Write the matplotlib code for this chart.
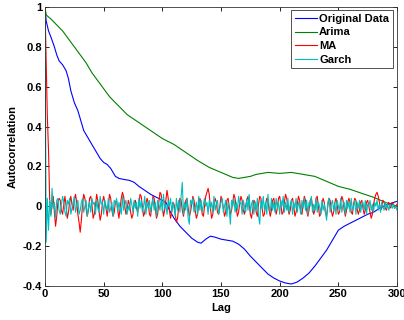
import numpy as np
import matplotlib
matplotlib.use("Agg")
import matplotlib.pyplot as plt

plt.rcParams['font.family'] = ['Liberation Sans', 'DejaVu Sans']

orig_lags = [0, 1, 3, 5, 8, 10, 12, 15, 18, 20, 22, 25, 28, 30, 33, 36, 40, 44, 47, 50,
             53, 56, 60, 63, 67, 72, 76, 80, 85, 90, 95, 100, 103, 107, 110, 115, 120, 125,
             130, 133, 137, 141, 145, 150, 155, 160, 165, 170, 175, 180, 185, 190, 195, 200,
             205, 210, 215, 220, 225, 230, 235, 240, 245, 250, 255, 260, 265, 270, 275, 280,
             285, 290, 295, 300]
orig_vals = [1.00, 0.93, 0.88, 0.85, 0.80, 0.76, 0.73, 0.71, 0.68, 0.64, 0.58, 0.52, 0.48,
             0.44, 0.38, 0.35, 0.31, 0.27, 0.24, 0.22, 0.21, 0.19, 0.15, 0.14, 0.135, 0.13,
             0.12, 0.10, 0.08, 0.06, 0.045, 0.03, 0.02, -0.03, -0.06, -0.10, -0.13, -0.16,
             -0.18, -0.185, -0.165, -0.15, -0.155, -0.165, -0.17, -0.175, -0.19, -0.215,
             -0.25, -0.28, -0.31, -0.34, -0.36, -0.375, -0.385, -0.39, -0.38, -0.36, -0.335,
             -0.30, -0.26, -0.22, -0.17, -0.12, -0.10, -0.085, -0.07, -0.055, -0.04, -0.03,
             -0.01, 0.005, 0.015, 0.025]

arima_lags = [0, 1, 5, 10, 15, 20, 25, 30, 35, 40, 45, 50, 55, 60, 65, 70, 75, 80, 85, 90,
              95, 100, 110, 120, 130, 140, 150, 160, 165, 170, 175, 180, 190, 200, 210, 220,
              225, 230, 240, 250, 260, 270, 280, 290, 300]
arima_vals = [1.0, 0.96, 0.94, 0.91, 0.88, 0.84, 0.80, 0.76, 0.72, 0.67, 0.63, 0.59, 0.55,
              0.52, 0.49, 0.46, 0.44, 0.42, 0.40, 0.38, 0.36, 0.34, 0.31, 0.27, 0.23, 0.195,
              0.17, 0.145, 0.14, 0.145, 0.15, 0.16, 0.17, 0.165, 0.17, 0.16, 0.155, 0.15,
              0.125, 0.10, 0.085, 0.065, 0.045, 0.02, 0.0]

ma_vals = [
    1.00, 0.72, 0.45, 0.28, 0.03, -0.04, 0.00, 0.05, -0.03, -0.10, -0.05, 0.02, 0.04, 0.03, -0.02, -0.04, 0.01, 0.05, 0.00, -0.06,
    -0.03, 0.02, 0.05, 0.01, -0.02, 0.03, 0.06, 0.02, -0.04, -0.08, -0.13, -0.07, 0.01, 0.06, 0.04, -0.01, -0.05, -0.02, 0.04, 0.05,
    0.01, -0.06, -0.04, 0.00, 0.06, 0.03, -0.02, -0.07, -0.04, 0.02, 0.05, 0.02, -0.01, -0.05, 0.00, 0.06, 0.04, -0.02, -0.05, -0.03,
    0.02, 0.03, -0.02, -0.06, -0.01, 0.04, 0.07, 0.05, 0.00, -0.04, -0.02, 0.03, 0.01, -0.03, -0.06, -0.04, 0.02, 0.03, -0.01, -0.03,
    0.01, 0.06, 0.05, 0.00, -0.05, -0.03, 0.01, 0.04, 0.02, -0.04, -0.05, 0.00, 0.05, 0.04, -0.01, -0.06, -0.04, 0.02, 0.07, 0.06,
    0.00, -0.05, -0.02, 0.03, 0.08, 0.04, -0.02, -0.06, -0.03, 0.02, 0.01, -0.04, -0.08, -0.06, 0.00, 0.04, 0.03, -0.02, -0.05, -0.01,
    0.03, 0.04, -0.01, -0.05, -0.03, 0.01, 0.05, 0.03, -0.02, -0.06, -0.04, 0.01, 0.04, 0.02, -0.04, -0.05, 0.00, 0.05, 0.07, 0.09,
    0.06, -0.01, -0.06, -0.04, 0.01, 0.04, 0.02, -0.03, -0.04, 0.00, 0.05, 0.03, -0.01, -0.05, -0.03, 0.03, 0.04, 0.00, -0.04, -0.02,
    0.02, 0.06, 0.04, -0.01, -0.05, -0.03, 0.02, 0.05, 0.03, -0.02, -0.04, 0.00, 0.03, 0.05, 0.01, -0.04, -0.06, -0.02, 0.03, 0.02,
    -0.03, -0.05, 0.01, 0.05, 0.04, -0.01, -0.05, -0.04, 0.01, 0.04, 0.03, -0.02, -0.05, -0.02, 0.03, 0.04, 0.00, -0.04, -0.01, 0.04,
    0.05, 0.01, -0.04, -0.03, 0.02, 0.06, 0.04, -0.01, -0.04, -0.02, 0.03, 0.04, 0.00, -0.05, -0.03, 0.01, 0.05, 0.03, -0.03, -0.04,
    0.01, 0.05, 0.03, -0.02, -0.05, -0.02, 0.03, 0.04, 0.00, -0.04, -0.02, 0.04, 0.05, 0.00, -0.05, -0.04, 0.01, 0.04, 0.02, -0.03,
    -0.05, 0.00, 0.04, 0.03, -0.02, -0.05, -0.03, 0.02, 0.04, 0.01, -0.04, -0.03, 0.02, 0.05, 0.03, -0.02, -0.05, -0.02, 0.02, 0.04,
    0.02, -0.03, -0.04, 0.01, 0.04, 0.03, -0.01, -0.04, -0.02, 0.02, 0.03, -0.01, -0.04, -0.02, 0.02, 0.03, 0.00, -0.03, -0.06, -0.04,
    0.01, 0.04, 0.06, 0.07, 0.05, 0.02, -0.02, -0.01, 0.03, 0.02, -0.01, -0.02, 0.01, 0.02, -0.01, 0.00, 0.02, 0.01, -0.01, 0.00, 0.01,
]

garch_vals = [
    1.00, -0.18, 0.04, -0.12, 0.03, -0.05, 0.09, -0.01, 0.02, -0.06, 0.03, 0.04, -0.02, -0.04, 0.01, 0.05, 0.02, -0.03, -0.05, 0.03,
    0.01, 0.04, -0.04, -0.01, 0.02, 0.05, -0.03, 0.00, 0.03, -0.04, -0.02, 0.02, 0.04, -0.03, 0.00, 0.03, -0.05, -0.01, 0.02, -0.03,
    0.04, 0.01, 0.02, -0.04, 0.03, -0.01, -0.03, 0.05, 0.01, 0.02, -0.04, 0.03, 0.00, -0.02, 0.04, -0.03, -0.01, 0.02, -0.05, 0.03,
    0.01, 0.04, -0.03, 0.02, -0.01, -0.04, 0.05, -0.02, 0.01, 0.03, -0.04, 0.00, -0.02, 0.04, 0.01, -0.03, 0.03, -0.01, 0.02, -0.05,
    0.04, -0.01, 0.03, -0.03, 0.00, 0.05, -0.04, 0.02, -0.01, 0.03, -0.03, 0.01, 0.04, -0.02, 0.02, -0.05, 0.03, 0.01, -0.02, 0.04,
    -0.03, 0.06, -0.01, 0.01, -0.04, 0.03, 0.00, 0.04, -0.03, 0.02, -0.01, -0.05, 0.04, -0.02, 0.03, -0.03, 0.05, 0.12, -0.04, 0.02,
    -0.02, 0.04, -0.06, -0.09, 0.03, 0.01, 0.04, -0.03, -0.01, 0.02, -0.04, 0.05, -0.02, 0.03, -0.03, 0.01, 0.04, 0.00, 0.02, -0.04,
    0.03, -0.01, 0.02, -0.03, 0.05, -0.02, 0.01, 0.03, -0.04, -0.01, 0.02, 0.04, -0.03, 0.00, 0.03, -0.05, 0.02, -0.02, -0.09, 0.03,
    0.00, 0.04, -0.03, 0.02, -0.02, 0.05, 0.01, 0.02, -0.04, 0.03, 0.00, -0.03, 0.04, -0.02, 0.06, -0.03, 0.01, 0.03, -0.04, 0.02,
    -0.02, 0.04, -0.05, -0.09, 0.03, -0.01, 0.05, -0.02, 0.02, -0.04, 0.06, 0.00, -0.03, 0.04, -0.02, 0.02, -0.03, 0.04, -0.01, 0.02,
    -0.04, 0.03, 0.00, 0.05, -0.03, 0.02, -0.02, 0.04, -0.03, 0.01, 0.03, -0.04, 0.02, -0.01, 0.04, -0.03, 0.02, 0.00, -0.04, 0.03,
    -0.01, 0.04, -0.02, 0.03, -0.04, 0.02, 0.00, 0.05, -0.03, 0.01, -0.02, 0.04, -0.03, 0.02, 0.00, -0.04, 0.03, -0.02, 0.01, -0.03,
    -0.07, 0.02, 0.04, -0.03, 0.01, 0.03, -0.02, 0.02, -0.04, 0.03, 0.00, -0.02, 0.04, -0.03, 0.01, 0.02, -0.04, 0.03, -0.01, 0.02,
    -0.03, 0.04, -0.02, 0.00, 0.03, -0.04, 0.02, -0.01, 0.03, -0.03, 0.01, 0.02, -0.02, 0.03, -0.04, 0.01, 0.00, 0.03, -0.02, 0.01,
    -0.03, 0.02, 0.00, 0.03, -0.02, 0.01, -0.03, 0.02, 0.00, -0.02, 0.02, -0.01, 0.01, -0.02, 0.01, 0.00, -0.01, 0.01, -0.01, 0.00, -0.02,
]

labels = ["Original Data", "Arima", "MA", "Garch"]
colors = ["#0000ff", "#008000", "#ff0000", "#00bfbf"]

fig = plt.figure(figsize=(4.04, 3.20), dpi=100)
ax = fig.add_axes([45 / 404, 1 - 286 / 320, 352 / 404, 279 / 320])

lw = 0.8
ax.plot(orig_lags, orig_vals, color=colors[0], lw=lw, label=labels[0])
ax.plot(arima_lags, arima_vals, color=colors[1], lw=lw, label=labels[1])
ax.plot(np.arange(len(ma_vals)), ma_vals, color=colors[2], lw=lw, label=labels[2])
ax.plot(np.arange(len(garch_vals)), garch_vals, color=colors[3], lw=lw, label=labels[3])

ax.set_xlim(0, 300)
ax.set_ylim(-0.4, 1.0)
ax.set_xticks(np.arange(0, 301, 50))
ax.set_yticks([-0.4, -0.2, 0, 0.2, 0.4, 0.6, 0.8, 1])
ax.set_yticklabels(["-0.4", "-0.2", "0", "0.2", "0.4", "0.6", "0.8", "1"])
ax.tick_params(direction='in', top=True, right=True, length=3, width=0.6,
               labelsize=8, pad=2)
for lab in ax.get_xticklabels() + ax.get_yticklabels():
    lab.set_fontweight('bold')
for s in ax.spines.values():
    s.set_linewidth(0.6)
    s.set_color('#333333')

ax.set_xlabel("Lag", fontsize=8, fontweight='bold', labelpad=3)
ax.set_ylabel("Autocorrelation", fontsize=8, fontweight='bold', labelpad=4)

leg = ax.legend(loc='upper right', bbox_to_anchor=(393 / 404, 1 - 10 / 320),
                bbox_transform=fig.transFigure,
                prop={'weight': 'bold', 'size': 8}, handlelength=2.0,
                handletextpad=0.15, labelspacing=0.32, borderpad=0.35,
                borderaxespad=0, fancybox=False, framealpha=1, edgecolor='#333333')
leg.get_frame().set_linewidth(0.6)

fig.savefig("out.png", dpi=100)
